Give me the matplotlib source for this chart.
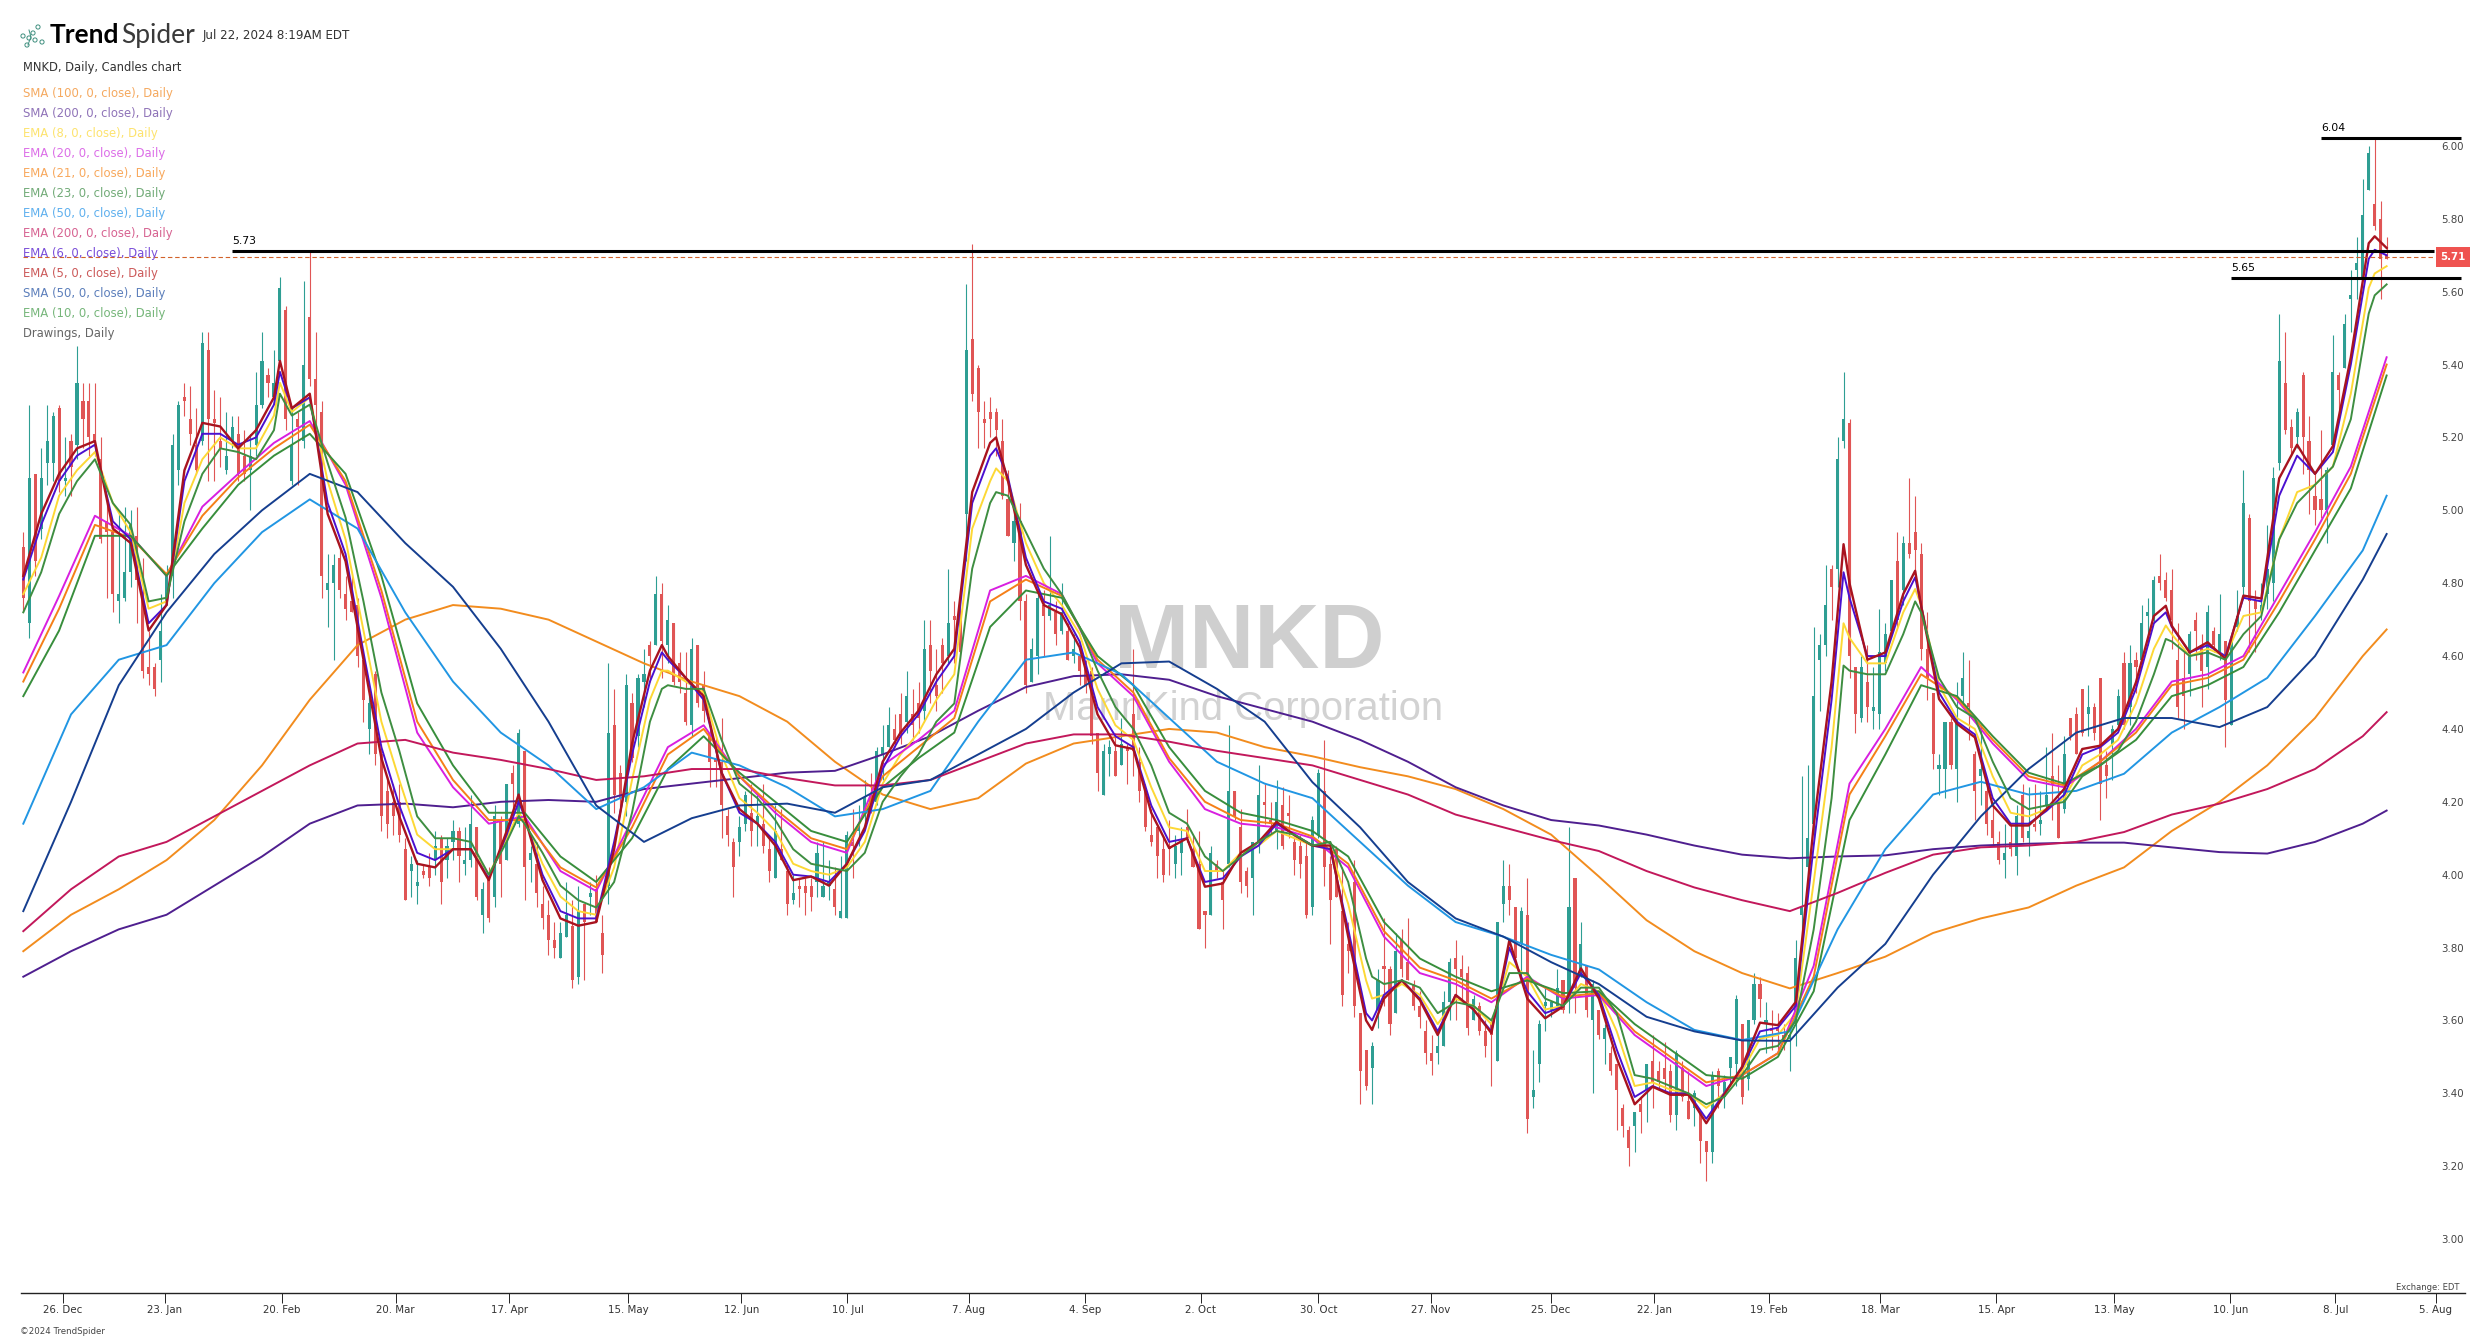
import matplotlib
matplotlib.use('Agg')
import matplotlib.pyplot as plt

# candles, 20 bars per row. R = close under open, G = close over open
candle_dir = ("RGRGGGRGRGRRRRRRGGGR"
              "RRRGGGGRRRGRRRGGRRGG"
              "GRGGRGRGRRRGGRRRRRGR"
              "RRRRRGGRRGRGGRGGRGRG"
              "RGRGRGRRRRGGRGRGRRGR"
              "RGRGGRGRGRRRGRRRRRRR"
              "GGRGRRGRRGRRRGGGRGGR"
              "GGRGGGRRGRRGRRRGRRGR"
              "RRRRRRGRRGGRGRGRGRRR"
              "RGGRGRRRRRRRRGGRRRRG"
              "RRGRRRGGRRGRRRRRGGRR"
              "RRRRRRGGRRGRRRRRRGGG"
              "RRRGRRRGGRRGRGGGGGRG"
              "RGRGRGRRRRGRGRRRRGRR"
              "GRRGRGGGRGGRGRRRGGGG"
              "GGGRGGRRGRGGGGRGRRRR"
              "RGGRGGRRGRRRGRGRGRGG"
              "RRGRRRGRRRGGRGRGGGRR"
              "RRRGRRGRGRGGGRRGGGGR"
              "RGRRRRGGRGGGGGRRR")

bar_high = [4.94,5.29,5.10,5.17,5.29,5.27,5.29,5.20,5.21,5.45,5.35,5.35,5.35,5.20,5.03,4.96,4.99,5.01,5.00,5.01,
            4.87,4.67,4.58,4.77,4.85,5.21,5.30,5.35,5.34,5.28,5.49,5.49,5.33,5.31,5.27,5.26,5.26,5.22,5.21,5.38,
            5.49,5.39,5.44,5.64,5.56,5.28,5.27,5.63,5.71,5.49,5.30,4.88,4.88,4.90,4.82,4.82,4.76,4.62,4.50,4.56,
            4.36,4.27,4.25,4.25,4.10,4.05,4.04,4.03,4.06,4.12,4.11,4.10,4.15,4.13,4.13,4.22,4.13,3.98,4.02,4.19,
            4.16,4.25,4.30,4.40,4.34,4.08,4.09,3.97,3.93,3.87,3.87,3.98,3.93,3.97,3.92,3.98,4.00,3.89,4.58,4.51,
            4.30,4.55,4.50,4.55,4.62,4.64,4.82,4.80,4.74,4.69,4.61,4.61,4.65,4.63,4.56,4.42,4.38,4.43,4.18,4.10,
            4.16,4.23,4.25,4.22,4.25,4.11,4.19,4.18,4.03,4.00,3.99,3.99,3.99,4.09,4.09,4.04,4.02,4.05,4.12,4.18,
            4.19,4.26,4.28,4.35,4.41,4.46,4.44,4.50,4.56,4.51,4.53,4.70,4.70,4.62,4.65,4.84,4.75,4.76,5.62,5.73,
            5.40,5.30,5.31,5.28,5.25,5.11,4.99,5.02,4.77,4.65,4.78,4.78,4.93,4.75,4.80,4.69,4.66,4.60,4.59,4.57,
            4.39,4.36,4.37,4.39,4.43,4.36,4.62,4.35,4.25,4.18,4.13,4.11,4.15,4.11,4.13,4.18,4.11,4.12,3.90,4.08,
            4.04,4.01,4.41,4.23,4.18,4.02,4.09,4.30,4.25,4.20,4.26,4.24,4.22,4.10,4.11,4.09,4.16,4.29,4.37,4.05,
            4.08,4.02,3.87,4.04,3.62,3.52,3.54,3.74,3.88,3.75,3.84,3.85,3.88,3.71,3.68,3.60,3.56,3.56,3.68,3.77,
            3.82,3.78,3.75,3.67,3.65,3.60,3.60,3.87,4.04,4.03,3.91,3.91,3.99,3.52,3.60,3.69,3.65,3.74,3.71,4.13,
            3.99,3.87,3.75,3.71,3.63,3.59,3.53,3.48,3.37,3.31,3.35,3.39,3.48,3.56,3.49,3.54,3.48,3.52,3.49,3.46,
            3.41,3.35,3.27,3.46,3.47,3.45,3.50,3.67,3.59,3.60,3.73,3.72,3.65,3.63,3.62,3.59,3.57,3.82,4.27,4.30,
            4.68,4.66,4.85,4.85,5.20,5.38,5.25,4.57,4.60,4.63,4.57,4.73,4.69,4.81,4.94,4.93,5.09,5.04,4.91,4.72,
            4.50,4.33,4.42,4.43,4.53,4.61,4.59,4.34,4.41,4.24,4.19,4.12,4.14,4.14,4.19,4.25,4.24,4.25,4.23,4.35,
            4.39,4.30,4.38,4.43,4.46,4.51,4.52,4.47,4.54,4.34,4.41,4.51,4.61,4.63,4.61,4.74,4.76,4.82,4.88,4.83,
            4.84,4.69,4.61,4.67,4.72,4.66,4.74,4.68,4.77,4.64,4.64,4.78,5.11,4.99,4.78,4.80,4.96,5.12,5.54,5.49,
            5.25,5.28,5.38,5.26,5.10,5.22,5.12,5.48,5.38,5.54,5.66,5.75,5.91,6.00,6.02,5.85,5.75]

body_top = [4.90,5.09,5.10,5.09,5.19,5.26,5.28,5.09,5.19,5.35,5.30,5.30,5.21,5.14,4.97,4.94,4.77,4.83,4.96,4.93,
            4.77,4.57,4.57,4.67,4.82,5.18,5.29,5.31,5.25,5.18,5.46,5.44,5.25,5.19,5.15,5.23,5.21,5.15,5.15,5.29,
            5.41,5.37,5.35,5.61,5.55,5.18,5.25,5.40,5.53,5.36,5.27,4.80,4.85,4.87,4.77,4.75,4.74,4.59,4.47,4.55,
            4.33,4.23,4.20,4.20,4.07,4.03,3.98,4.01,4.02,4.08,4.10,4.08,4.12,4.12,4.04,4.14,4.13,3.96,3.99,4.16,
            4.15,4.25,4.28,4.39,4.34,4.06,4.03,3.92,3.89,3.82,3.84,3.89,3.86,3.90,3.92,3.95,3.96,3.84,4.39,4.41,
            4.28,4.52,4.47,4.54,4.55,4.63,4.77,4.77,4.70,4.69,4.58,4.50,4.62,4.63,4.52,4.39,4.32,4.31,4.16,4.09,
            4.13,4.22,4.17,4.16,4.14,4.07,4.12,4.07,4.01,3.95,3.97,3.97,3.97,4.06,3.97,3.98,3.96,3.90,4.11,4.09,
            4.14,4.21,4.22,4.34,4.35,4.41,4.40,4.44,4.49,4.44,4.47,4.62,4.63,4.52,4.63,4.69,4.71,4.72,5.44,5.47,
            5.39,5.25,5.27,5.27,5.19,5.03,4.97,4.97,4.75,4.62,4.76,4.74,4.74,4.72,4.72,4.67,4.62,4.60,4.57,4.56,
            4.39,4.34,4.35,4.34,4.36,4.35,4.44,4.31,4.23,4.11,4.13,4.07,4.08,4.08,4.09,4.13,4.07,4.03,3.90,4.06,
            4.03,3.98,4.23,4.23,4.13,4.01,4.09,4.22,4.20,4.15,4.20,4.19,4.17,4.09,4.08,4.05,4.15,4.28,4.23,4.03,
            4.07,3.90,3.81,3.98,3.62,3.52,3.53,3.71,3.75,3.74,3.79,3.82,3.76,3.70,3.64,3.57,3.51,3.53,3.65,3.76,
            3.77,3.74,3.73,3.66,3.64,3.57,3.59,3.87,3.97,3.97,3.91,3.90,3.89,3.41,3.59,3.65,3.65,3.69,3.71,3.91,
            3.99,3.81,3.75,3.70,3.63,3.58,3.51,3.48,3.36,3.30,3.35,3.37,3.48,3.49,3.46,3.47,3.46,3.51,3.47,3.38,
            3.40,3.35,3.27,3.45,3.46,3.43,3.50,3.66,3.59,3.60,3.70,3.70,3.60,3.58,3.58,3.56,3.56,3.77,3.91,4.10,
            4.49,4.63,4.74,4.84,5.14,5.25,5.24,4.57,4.57,4.53,4.46,4.61,4.66,4.81,4.86,4.91,4.91,4.94,4.88,4.62,
            4.50,4.30,4.42,4.42,4.43,4.54,4.47,4.33,4.29,4.23,4.15,4.09,4.06,4.09,4.16,4.22,4.12,4.14,4.15,4.22,
            4.27,4.20,4.33,4.43,4.44,4.51,4.46,4.46,4.54,4.30,4.40,4.49,4.58,4.58,4.59,4.69,4.72,4.81,4.82,4.81,
            4.78,4.59,4.54,4.66,4.70,4.63,4.72,4.67,4.66,4.64,4.64,4.71,5.02,4.98,4.75,4.74,4.84,5.09,5.41,5.35,
            5.23,5.27,5.37,5.19,5.04,5.03,5.11,5.38,5.37,5.51,5.59,5.68,5.81,5.98,5.84,5.80,5.70]

body_bot = [4.76,4.69,4.86,4.95,5.13,5.13,5.08,5.08,5.12,5.18,5.25,5.20,5.19,4.92,4.94,4.77,4.75,4.76,4.83,4.81,
            4.56,4.55,4.51,4.59,4.75,4.82,5.11,5.30,5.21,5.11,5.19,5.25,5.24,5.17,5.11,5.19,5.10,5.10,5.11,5.18,
            5.29,5.35,5.31,5.41,5.25,5.08,5.23,5.19,5.36,5.29,4.82,4.78,4.80,4.78,4.73,4.72,4.60,4.48,4.40,4.33,
            4.16,4.14,4.16,4.11,3.93,4.01,3.97,4.00,3.99,4.04,3.98,4.04,4.09,4.05,4.03,4.04,3.94,3.89,3.88,3.94,
            4.03,4.04,4.25,4.14,4.02,4.04,3.95,3.88,3.82,3.80,3.77,3.83,3.71,3.72,3.87,3.94,3.87,3.78,3.97,4.22,
            4.21,4.20,4.32,4.38,4.53,4.60,4.63,4.64,4.63,4.53,4.53,4.42,4.41,4.47,4.45,4.31,4.31,4.19,4.11,4.02,
            4.09,4.14,4.12,4.14,4.08,4.01,3.99,4.04,3.92,3.93,3.96,3.95,3.94,3.98,3.94,3.97,3.91,3.88,3.88,4.08,
            4.12,4.16,4.20,4.20,4.33,4.35,4.37,4.39,4.42,4.41,4.43,4.45,4.56,4.49,4.58,4.60,4.70,4.61,4.99,5.32,
            5.27,5.24,5.25,5.22,5.04,4.93,4.91,4.75,4.52,4.53,4.60,4.71,4.71,4.66,4.67,4.59,4.60,4.56,4.52,4.38,
            4.28,4.22,4.33,4.27,4.30,4.34,4.34,4.23,4.13,4.09,4.05,4.00,4.07,4.03,4.06,4.10,4.02,3.85,3.89,3.89,
            4.01,3.93,4.03,4.16,3.98,3.97,3.99,4.09,4.19,4.14,4.12,4.08,4.16,4.04,4.03,3.89,3.91,4.11,4.02,3.93,
            3.94,3.67,3.79,3.64,3.46,3.42,3.47,3.63,3.74,3.59,3.62,3.74,3.71,3.64,3.61,3.51,3.49,3.51,3.53,3.65,
            3.74,3.72,3.58,3.60,3.57,3.53,3.56,3.49,3.92,3.93,3.77,3.81,3.33,3.39,3.48,3.64,3.63,3.64,3.63,3.66,
            3.69,3.73,3.63,3.60,3.56,3.55,3.46,3.41,3.31,3.25,3.31,3.35,3.41,3.43,3.43,3.44,3.34,3.34,3.39,3.33,
            3.36,3.27,3.24,3.24,3.42,3.39,3.47,3.48,3.39,3.44,3.60,3.66,3.59,3.57,3.57,3.55,3.55,3.59,3.89,4.02,
            4.14,4.59,4.63,4.79,4.84,5.19,4.60,4.44,4.43,4.46,4.45,4.44,4.58,4.67,4.70,4.78,4.88,4.89,4.62,4.54,
            4.33,4.29,4.29,4.30,4.29,4.49,4.46,4.23,4.27,4.14,4.10,4.04,4.04,4.07,4.05,4.10,4.10,4.13,4.14,4.19,
            4.25,4.10,4.18,4.38,4.33,4.39,4.44,4.39,4.25,4.27,4.36,4.41,4.41,4.46,4.57,4.59,4.71,4.70,4.80,4.76,
            4.70,4.46,4.49,4.55,4.67,4.56,4.57,4.63,4.61,4.48,4.41,4.68,4.79,4.75,4.73,4.72,4.77,4.80,5.13,5.22,
            5.17,5.20,5.20,5.11,5.00,5.00,5.00,5.18,5.33,5.39,5.58,5.66,5.64,5.88,5.78,5.69,5.69]

bar_low = [4.72,4.65,4.82,4.92,5.07,5.08,5.05,5.04,5.04,5.14,5.17,5.15,5.15,4.91,4.76,4.72,4.69,4.75,4.79,4.69,
           4.54,4.52,4.49,4.53,4.74,4.76,5.07,5.26,5.18,5.10,5.18,5.08,5.08,5.12,5.10,5.17,5.08,5.08,5.00,5.15,
           5.28,5.31,5.30,5.40,5.22,5.07,5.07,5.17,5.34,5.20,4.76,4.68,4.59,4.76,4.70,4.72,4.57,4.42,4.33,4.30,
           4.12,4.10,4.11,4.09,3.93,3.94,3.92,3.99,3.97,4.00,3.92,3.99,4.04,3.98,4.00,4.02,3.93,3.84,3.87,3.91,
           3.94,4.04,4.17,4.13,3.93,3.98,3.91,3.85,3.78,3.77,3.77,3.83,3.69,3.70,3.71,3.89,3.87,3.73,3.92,4.17,
           4.17,4.16,4.31,4.35,4.46,4.53,4.63,4.54,4.58,4.52,4.50,4.41,4.38,4.46,4.42,4.24,4.24,4.10,4.08,3.94,
           4.05,4.12,4.08,4.08,4.06,3.98,3.99,4.04,3.89,3.92,3.91,3.89,3.90,3.94,3.94,3.93,3.89,3.88,3.88,3.99,
           4.08,4.14,4.17,4.19,4.26,4.35,4.35,4.36,4.39,4.37,4.39,4.42,4.47,4.45,4.50,4.58,4.58,4.59,4.86,5.30,
           5.17,5.17,5.20,5.15,5.03,4.93,4.86,4.70,4.50,4.53,4.55,4.60,4.70,4.63,4.66,4.59,4.58,4.52,4.50,4.36,
           4.23,4.22,4.27,4.27,4.30,4.25,4.27,4.20,4.12,4.08,3.99,3.98,4.00,3.99,4.00,4.09,4.02,3.85,3.80,3.89,
           3.99,3.85,4.02,4.15,3.95,3.94,3.89,4.06,4.14,4.11,4.07,4.07,4.10,4.00,3.99,3.88,3.89,4.10,3.97,3.81,
           3.94,3.64,3.73,3.61,3.37,3.41,3.37,3.58,3.64,3.56,3.62,3.72,3.71,3.63,3.58,3.48,3.45,3.48,3.53,3.60,
           3.60,3.65,3.56,3.60,3.56,3.50,3.42,3.49,3.87,3.89,3.76,3.71,3.29,3.36,3.43,3.57,3.61,3.64,3.62,3.62,
           3.62,3.72,3.61,3.40,3.55,3.48,3.45,3.30,3.28,3.20,3.24,3.29,3.32,3.36,3.41,3.40,3.32,3.30,3.38,3.33,
           3.31,3.21,3.16,3.21,3.36,3.36,3.42,3.42,3.37,3.41,3.59,3.61,3.51,3.52,3.52,3.52,3.46,3.53,3.85,3.97,
           4.10,4.45,4.60,4.70,4.79,5.17,4.54,4.39,4.42,4.42,4.40,4.40,4.56,4.67,4.68,4.74,4.87,4.83,4.59,4.48,
           4.29,4.22,4.21,4.29,4.20,4.46,4.37,4.15,4.19,4.11,4.08,4.03,3.99,4.05,4.00,4.09,4.05,4.12,4.11,4.18,
           4.15,4.10,4.17,4.37,4.33,4.38,4.38,4.37,4.15,4.21,4.26,4.40,4.40,4.41,4.50,4.58,4.63,4.69,4.78,4.75,
           4.62,4.43,4.40,4.49,4.59,4.46,4.51,4.61,4.59,4.35,4.41,4.67,4.76,4.61,4.61,4.70,4.73,4.75,5.11,5.21,
           5.15,5.17,5.10,4.99,4.96,4.98,4.91,5.18,5.26,5.39,5.49,5.58,5.64,5.88,5.77,5.58,5.69]

# fast averages, read at these bars
fast_bars = [0,3,6,9,12,15,18,21,24,27,30,33,36,39,42,43,45,48,51,54,
             57,60,63,66,69,72,75,78,81,83,84,87,90,93,96,99,102,105,107,108,
             111,114,117,120,123,126,129,132,135,138,141,144,147,150,153,156,159,162,163,165,
             168,171,174,177,180,183,186,189,192,195,198,201,204,207,210,213,216,219,222,225,
             226,228,231,234,237,240,243,246,249,252,255,258,261,264,267,270,273,276,279,282,
             285,288,291,294,297,300,303,305,306,309,312,315,317,318,321,324,327,330,333,336,
             339,342,345,348,351,354,357,359,360,363,366,369,372,375,378,381,384,387,390,393,
             394,396]

ema5 = [4.82,4.99,5.10,5.17,5.19,4.95,4.91,4.67,4.74,5.11,5.24,5.23,5.17,5.22,5.31,5.41,5.28,5.32,4.99,4.86,
        4.59,4.32,4.16,4.03,4.02,4.07,4.07,3.985,4.12,4.22,4.16,3.985,3.88,3.86,3.87,4.07,4.36,4.56,4.63,4.60,
        4.54,4.49,4.28,4.18,4.14,4.08,3.985,3.995,3.97,4.03,4.13,4.31,4.39,4.45,4.55,4.62,5.05,5.185,5.20,5.08,
        4.85,4.74,4.715,4.624,4.44,4.355,4.345,4.17,4.073,4.10,3.967,3.976,4.06,4.09,4.145,4.108,4.08,4.08,3.83,3.60,
        3.574,3.66,3.71,3.656,3.56,3.67,3.63,3.565,3.82,3.66,3.606,3.638,3.743,3.66,3.496,3.37,3.418,3.396,3.396,3.318,
        3.396,3.473,3.594,3.587,3.651,4.135,4.53,4.907,4.80,4.59,4.61,4.77,4.834,4.738,4.482,4.414,4.377,4.19,4.135,4.135,
        4.18,4.236,4.345,4.354,4.40,4.528,4.71,4.738,4.683,4.61,4.638,4.592,4.766,4.758,5.088,5.18,5.10,5.176,5.42,5.733,
        5.752,5.72]

ema6 = [4.81,4.96,5.08,5.15,5.18,4.97,4.92,4.69,4.74,5.08,5.21,5.21,5.18,5.20,5.29,5.38,5.28,5.31,5.02,4.88,
        4.61,4.35,4.19,4.06,4.04,4.07,4.07,3.99,4.11,4.20,4.16,4.00,3.90,3.88,3.88,4.09,4.33,4.53,4.61,4.59,
        4.54,4.48,4.28,4.17,4.14,4.09,4.00,3.995,3.98,4.03,4.12,4.29,4.38,4.44,4.53,4.60,5.02,5.15,5.17,5.09,
        4.87,4.75,4.73,4.64,4.46,4.38,4.35,4.19,4.09,4.10,3.98,3.99,4.05,4.08,4.14,4.11,4.08,4.07,3.85,3.62,
        3.60,3.67,3.71,3.66,3.57,3.67,3.63,3.57,3.80,3.68,3.62,3.638,3.73,3.67,3.52,3.39,3.42,3.40,3.40,3.33,
        3.40,3.47,3.57,3.58,3.64,4.08,4.48,4.83,4.76,4.60,4.60,4.75,4.816,4.74,4.50,4.42,4.385,4.21,4.14,4.14,
        4.175,4.22,4.33,4.35,4.39,4.51,4.69,4.72,4.68,4.61,4.63,4.60,4.76,4.75,5.04,5.15,5.10,5.16,5.40,5.69,
        5.715,5.70]

ema8 = [4.77,4.87,5.04,5.11,5.16,5.02,4.94,4.73,4.75,5.02,5.14,5.20,5.17,5.17,5.26,5.35,5.27,5.31,5.08,4.92,
        4.67,4.42,4.26,4.11,4.07,4.07,4.07,4.00,4.10,4.17,4.15,4.03,3.94,3.90,3.89,4.02,4.26,4.48,4.56,4.56,
        4.53,4.50,4.33,4.21,4.17,4.12,4.03,4.01,4.00,4.02,4.09,4.25,4.33,4.39,4.48,4.55,4.95,5.08,5.115,5.08,
        4.91,4.80,4.74,4.66,4.51,4.41,4.37,4.24,4.13,4.12,4.01,4.01,4.06,4.08,4.12,4.10,4.08,4.07,3.92,3.71,
        3.66,3.67,3.70,3.67,3.59,3.66,3.64,3.59,3.76,3.72,3.63,3.64,3.70,3.68,3.57,3.42,3.43,3.41,3.40,3.36,
        3.40,3.46,3.55,3.56,3.62,3.98,4.35,4.69,4.65,4.58,4.58,4.72,4.784,4.74,4.52,4.43,4.40,4.27,4.17,4.16,
        4.18,4.21,4.30,4.33,4.37,4.47,4.62,4.684,4.66,4.60,4.62,4.60,4.71,4.72,4.92,5.05,5.07,5.12,5.32,5.61,
        5.65,5.67]

ema10 = [4.72,4.83,4.99,5.08,5.14,5.02,4.96,4.75,4.76,4.97,5.10,5.17,5.16,5.14,5.22,5.32,5.26,5.29,5.13,4.98,
         4.75,4.50,4.34,4.16,4.10,4.10,4.09,4.00,4.09,4.16,4.14,4.06,3.97,3.93,3.91,3.98,4.17,4.42,4.51,4.52,
         4.51,4.51,4.37,4.25,4.21,4.15,4.07,4.03,4.02,4.01,4.06,4.20,4.27,4.33,4.42,4.47,4.84,5.02,5.05,5.04,
         4.94,4.84,4.77,4.68,4.56,4.46,4.40,4.30,4.17,4.14,4.05,4.01,4.05,4.09,4.12,4.11,4.08,4.09,3.98,3.77,
         3.72,3.70,3.71,3.69,3.62,3.65,3.64,3.60,3.73,3.73,3.66,3.64,3.69,3.69,3.62,3.45,3.44,3.42,3.40,3.37,
         3.39,3.45,3.52,3.53,3.60,3.85,4.21,4.574,4.56,4.55,4.55,4.66,4.75,4.72,4.54,4.46,4.43,4.31,4.21,4.18,
         4.19,4.20,4.27,4.30,4.34,4.42,4.55,4.647,4.64,4.60,4.61,4.59,4.66,4.71,4.92,5.02,5.07,5.12,5.25,5.54,
         5.59,5.62]

# mid averages, every 6 bars
mid_bars = list(range(0, 397, 6))

ema20 = [4.555,4.765,4.985,4.93,4.82,5.01,5.10,5.185,5.245,5.07,4.76,4.39,4.24,4.14,4.16,4.01,3.955,4.15,4.35,4.41,
         4.27,4.17,4.09,4.06,4.30,4.37,4.45,4.78,4.82,4.77,4.58,4.49,4.31,4.18,4.14,4.13,4.10,4.02,3.83,3.73,
         3.70,3.65,3.72,3.66,3.67,3.56,3.49,3.42,3.45,3.51,3.75,4.25,4.40,4.57,4.48,4.36,4.26,4.24,4.31,4.40,
         4.53,4.55,4.60,4.77,4.94,5.12,5.42]

ema21 = [4.53,4.73,4.96,4.925,4.825,4.985,5.09,5.17,5.235,5.08,4.78,4.42,4.26,4.15,4.15,4.02,3.965,4.13,4.33,4.40,
         4.27,4.18,4.10,4.07,4.27,4.35,4.43,4.75,4.81,4.765,4.59,4.50,4.32,4.20,4.15,4.14,4.105,4.03,3.845,3.745,
         3.71,3.66,3.715,3.665,3.675,3.57,3.50,3.43,3.45,3.51,3.72,4.22,4.38,4.55,4.485,4.37,4.27,4.245,4.31,4.39,
         4.52,4.54,4.59,4.75,4.92,5.10,5.40]

ema23 = [4.49,4.67,4.93,4.93,4.82,4.95,5.07,5.15,5.21,5.10,4.82,4.47,4.30,4.17,4.17,4.05,3.98,4.10,4.29,4.38,
         4.28,4.20,4.12,4.09,4.24,4.32,4.39,4.68,4.78,4.76,4.60,4.52,4.35,4.23,4.17,4.15,4.12,4.05,3.87,3.77,
         3.72,3.68,3.71,3.675,3.68,3.59,3.52,3.45,3.44,3.50,3.68,4.15,4.33,4.52,4.49,4.38,4.28,4.25,4.30,4.37,
         4.49,4.52,4.57,4.72,4.89,5.06,5.37]

# slow averages, every 8 bars plus the last one
slow_bars = list(range(0, 393, 8)) + [396]

ema50 = [4.14,4.44,4.59,4.63,4.80,4.94,5.03,4.95,4.72,4.53,4.39,4.30,4.18,4.24,4.335,4.30,4.24,4.16,4.18,4.23,
         4.42,4.59,4.61,4.55,4.43,4.31,4.25,4.21,4.09,3.97,3.87,3.83,3.78,3.74,3.65,3.574,3.546,3.57,3.85,4.07,
         4.22,4.255,4.22,4.23,4.277,4.39,4.46,4.54,4.71,4.89,5.04]

sma50 = [3.90,4.20,4.52,4.72,4.88,5.00,5.10,5.05,4.91,4.79,4.62,4.42,4.19,4.09,4.155,4.19,4.195,4.17,4.24,4.26,
         4.33,4.40,4.50,4.58,4.585,4.51,4.42,4.254,4.13,3.98,3.88,3.83,3.76,3.70,3.61,3.57,3.545,3.544,3.69,3.81,
         4.00,4.16,4.29,4.39,4.43,4.43,4.405,4.46,4.60,4.81,4.935]

sma100 = [3.79,3.89,3.96,4.04,4.15,4.30,4.48,4.63,4.70,4.74,4.73,4.70,4.64,4.58,4.53,4.49,4.42,4.31,4.22,4.18,
          4.21,4.305,4.36,4.38,4.40,4.39,4.35,4.325,4.295,4.27,4.235,4.18,4.11,3.995,3.875,3.79,3.73,3.688,3.73,3.775,
          3.84,3.88,3.91,3.97,4.02,4.12,4.20,4.30,4.43,4.60,4.673]

ema200 = [3.845,3.96,4.05,4.09,4.16,4.23,4.30,4.36,4.37,4.335,4.315,4.29,4.26,4.27,4.29,4.29,4.265,4.245,4.245,4.26,
          4.31,4.36,4.385,4.385,4.365,4.34,4.32,4.30,4.26,4.22,4.165,4.13,4.095,4.065,4.01,3.965,3.93,3.90,3.95,4.005,
          4.055,4.075,4.08,4.09,4.117,4.165,4.195,4.235,4.29,4.38,4.446]

sma200 = [3.72,3.79,3.85,3.89,3.97,4.05,4.14,4.19,4.195,4.185,4.20,4.205,4.20,4.235,4.25,4.265,4.28,4.285,4.33,4.38,
          4.45,4.515,4.545,4.55,4.535,4.49,4.455,4.42,4.37,4.31,4.24,4.19,4.15,4.135,4.11,4.08,4.055,4.045,4.05,4.053,
          4.07,4.08,4.085,4.088,4.088,4.075,4.062,4.058,4.09,4.14,4.176]

price_ticks = [3.00,3.20,3.40,3.60,3.80,4.00,4.20,4.40,4.60,4.80,5.00,5.20,5.40,5.60,5.80,6.00]
date_labels = ['26. Dec','23. Jan','20. Feb','20. Mar','17. Apr','15. May','12. Jun','10. Jul','7. Aug','4. Sep','2. Oct',
               '30. Oct','27. Nov','25. Dec','22. Jan','19. Feb','18. Mar','15. Apr','13. May','10. Jun','8. Jul','5. Aug']
date_bars = [6.6,23.7,43.3,62.4,81.4,101.4,120.3,138.1,158.4,177.9,197.3,217,235.9,255.9,273.3,292.5,311.1,330.6,350.3,369.8,387.4,404.2]

legend_names = ['SMA (100, 0, close), Daily','SMA (200, 0, close), Daily','EMA (8, 0, close), Daily','EMA (20, 0, close), Daily',
                'EMA (21, 0, close), Daily','EMA (23, 0, close), Daily','EMA (50, 0, close), Daily','EMA (200, 0, close), Daily',
                'EMA (6, 0, close), Daily','EMA (5, 0, close), Daily','SMA (50, 0, close), Daily','EMA (10, 0, close), Daily','Drawings, Daily']
legend_colors = ['#f5a95f','#8f73b8','#fde36e','#dc6ee8','#f8a85c','#72ab78','#5fb0ee','#d76391','#7a4ed9','#cc5a5a','#5c7fbb','#76b67a','#666666']

W, H = 2491, 1339
UP, DOWN = '#2e9e93', '#e05555'
LEFT, RIGHT, BOTTOM = 21, 2465, 1293

fig = plt.figure(figsize=(W / 100, H / 100), dpi=100)
ax = fig.add_axes([LEFT / W, (H - BOTTOM) / H, (RIGHT - LEFT) / W, BOTTOM / H])
ax.set_xlim((LEFT - 23.3) / 5.968, (RIGHT - 23.3) / 5.968)
ax.set_ylim(2.852, 6.4005)

ax.text(0.5025, 0.5015, 'MNKD', transform=ax.transAxes, ha='center', va='center', family='Liberation Sans',
        fontweight='bold', fontsize=65, color='#cfcfcf', zorder=0)
ax.text(0.5, 0.4515, 'MannKind Corporation', transform=ax.transAxes, ha='center', va='center', family='Liberation Sans',
        fontsize=28.8, color='#d2d2d2', zorder=0)

x = range(len(bar_high))
colors = [UP if d == 'G' else DOWN for d in candle_dir]
ax.vlines(x, bar_low, bar_high, colors=colors, lw=0.8, zorder=2)
ax.bar(x, [t - b for t, b in zip(body_top, body_bot)], bottom=body_bot, width=0.52, color=colors, lw=0, zorder=2)

ax.plot(slow_bars, sma100, color='#f28c1e', lw=1.4, zorder=3)
ax.plot(slow_bars, sma200, color='#4f1f8f', lw=1.4, zorder=3)
ax.plot(fast_bars, ema8, color='#fdd835', lw=1.4, zorder=3)
ax.plot(mid_bars, ema20, color='#d81fe0', lw=1.4, zorder=3)
ax.plot(mid_bars, ema21, color='#f57f17', lw=1.4, zorder=3)
ax.plot(mid_bars, ema23, color='#388e3c', lw=1.4, zorder=3)
ax.plot(slow_bars, ema50, color='#2196e3', lw=1.4, zorder=3)
ax.plot(slow_bars, ema200, color='#c2185b', lw=1.4, zorder=3)
ax.plot(fast_bars, ema6, color='#4a10d0', lw=1.4, zorder=3)
ax.plot(fast_bars, ema5, color='#a8131f', lw=1.7, zorder=3)
ax.plot(slow_bars, sma50, color='#153e8f', lw=1.4, zorder=3)
ax.plot(fast_bars, ema10, color='#3e8e41', lw=1.4, zorder=3)

# drawn levels and last price
ax.hlines(5.695, 0, 404, colors='#d2622a', lw=0.8, linestyles=(0, (4, 2.5)), zorder=4)
ax.hlines(5.711, 35, 404, colors='black', lw=2.2, zorder=4)
ax.hlines(5.637, 370, 408.4, colors='black', lw=2.2, zorder=4)
ax.hlines(6.021, 385, 408.4, colors='black', lw=2.2, zorder=4)
ax.text(35, 5.725, '5.73', fontsize=7.8, fontweight='medium', color='black', va='bottom')
ax.text(370, 5.651, '5.65', fontsize=7.8, fontweight='medium', color='black', va='bottom')
ax.text(385, 6.035, '6.04', fontsize=7.8, fontweight='medium', color='black', va='bottom')

for s in ['top', 'left', 'right']:
    ax.spines[s].set_visible(False)
ax.spines['bottom'].set_linewidth(1.0)
ax.spines['bottom'].set_color('#222222')
ax.set_yticks(price_ticks)
ax.set_yticklabels(['%.2f' % p for p in price_ticks])
ax.yaxis.tick_right()
ax.tick_params(axis='y', length=0, pad=-16.8, labelsize=7.4, labelcolor='#444444')
for lab in ax.get_yticklabels():
    lab.set_zorder(6)
ax.set_xticks(date_bars)
ax.set_xticklabels(date_labels)
ax.tick_params(axis='x', length=7, width=0.7, color='#222222', pad=1.5, labelsize=7.4, labelcolor='#333333')

# overlay in image pixels for the header, legend and badge
top = fig.add_axes([0, 0, 1, 1], facecolor='none')
top.set_xlim(0, W)
top.set_ylim(H, 0)
top.axis('off')

top.text(50, 35, 'Trend', family='Lato', fontweight='bold', fontsize=19, va='center', color='black')
top.text(121, 35, 'Spider', family='Lato', fontweight='normal', fontsize=19, va='center', color='#3a3a3a')
top.scatter([23, 33, 38, 29, 35, 42, 27], [36, 33, 27, 38, 40, 42, 45], s=9, facecolors='none',
            edgecolors='#3f8f7f', linewidths=0.7)
top.plot([29, 31, 29, 28], [30, 37, 42, 45], color='#3f8f7f', lw=0.7)
top.text(203, 36, 'Jul 22, 2024 8:19AM EDT', fontsize=8.6, va='center', color='#333333')
top.text(23, 68, 'MNKD, Daily, Candles chart', fontsize=8.3, va='center', color='#333333')
for k, (name, col) in enumerate(zip(legend_names, legend_colors)):
    top.text(23, 94 + 20 * k, name, fontsize=8.35, va='center', color=col)

top.text(2396, 1287, 'Exchange: EDT', fontsize=6, va='center', color='#444444')
top.text(20, 1332, '©2024 TrendSpider', fontsize=6.2, va='center', color='#444444')
top.text(2453, 257, '5.71', fontsize=7.4, fontweight='bold', color='white', ha='center', va='center',
         bbox=dict(boxstyle='square,pad=0.45', fc='#ef5350', ec='none'))

fig.savefig('out.png', dpi=100)
